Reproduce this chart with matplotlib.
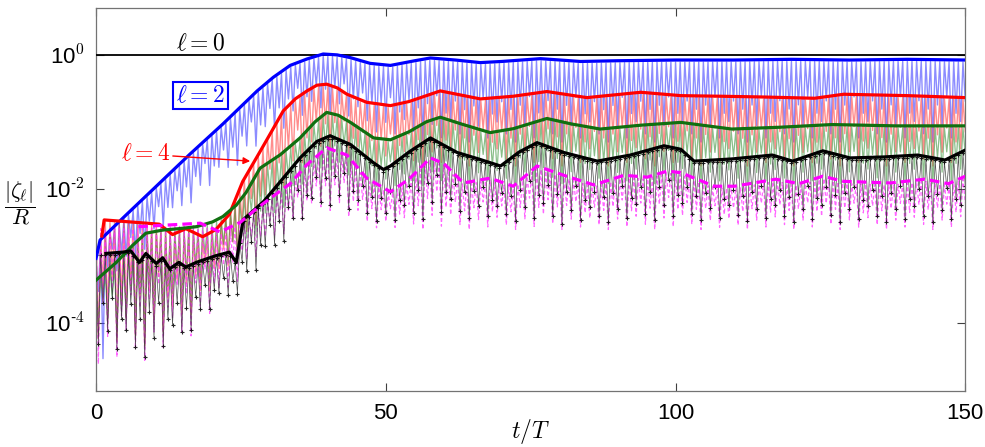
import numpy as np
import matplotlib
matplotlib.use("Agg")
import matplotlib.pyplot as plt
from matplotlib.ticker import FixedLocator, FixedFormatter, NullLocator

plt.rcParams['font.family'] = ['Liberation Sans', 'DejaVu Sans']
plt.rcParams['mathtext.fontset'] = 'cm'

# ---------------- data ----------------
# upper envelopes (thick lines)
t_l2 = [0, 0.7, 5.3, 10, 16.2, 21.9, 27.8, 30.6, 33.5, 36.4, 39.2, 41.6, 43.9, 47.3, 50.8,
        55, 57.7, 62, 66.3, 70, 76.7, 83.6, 90, 100, 110, 120, 130, 140, 150]
v_l2 = [9.3e-4, 1.74e-3, 4.2e-3, 1.02e-2, 3.3e-2, 9.3e-2, 0.288, 0.46, 0.69, 0.86, 1.02,
        0.99, 0.90, 0.74, 0.69, 0.81, 0.89, 0.83, 0.76, 0.79, 0.87, 0.79, 0.81, 0.83, 0.83,
        0.85, 0.83, 0.85, 0.83]

t_l4 = [1.0, 1.4, 10.9, 13.2, 15.5, 18.4, 20.7, 23, 25.3, 28.3, 30.3, 32.3, 34.4, 36.4,
        38.1, 39.8, 41.6, 43.3, 46.7, 50.8, 54, 59.4, 66.3, 72, 77.8, 84.7, 94, 100.9,
        107.8, 115, 124, 129, 140, 150]
v_l4 = [2.0e-3, 3.47e-3, 3.0e-3, 2.1e-3, 2.57e-3, 1.95e-3, 2.5e-3, 4.2e-3, 1.29e-2, 3.6e-2,
        7.2e-2, 0.145, 0.22, 0.288, 0.35, 0.363, 0.32, 0.257, 0.195, 0.174, 0.20, 0.288,
        0.219, 0.24, 0.282, 0.229, 0.275, 0.245, 0.24, 0.234, 0.224, 0.257, 0.245, 0.229]

t_l6 = [0, 3.5, 6.3, 8.6, 11.5, 14.3, 17.3, 20.1, 21.9, 24.2, 25.9, 28.3, 31.8, 35.2, 37.8,
        39.8, 41.8, 43.9, 47.9, 50.8, 54, 57, 59.4, 63, 68, 72, 77.8, 82, 87, 94, 100.9,
        109.7, 118, 127, 138, 150]
v_l6 = [4.4e-4, 8.1e-4, 1.45e-3, 2.2e-3, 2.45e-3, 2.57e-3, 2.75e-3, 3.24e-3, 3.9e-3, 5.75e-3,
        8.9e-3, 2.04e-2, 3.24e-2, 5.75e-2, 0.10, 0.138, 0.125, 9.8e-2, 5.75e-2, 5.4e-2,
        7.1e-2, 0.10, 0.117, 9.3e-2, 6.9e-2, 7.9e-2, 0.112, 9.3e-2, 7.8e-2, 8.9e-2, 9.8e-2,
        7.8e-2, 8.3e-2, 9.1e-2, 8.7e-2, 8.7e-2]

t_l8 = [1.7, 4.6, 6.0, 7.5, 8.6, 10.4, 11.5, 12.7, 14.3, 15.5, 17.3, 19, 20.7, 23, 24.2,
        25.4, 28.9, 31.8, 35.2, 38.1, 40.4, 43.9, 47.9, 49.6, 50.8, 54, 57.7, 62.3, 66,
        69.8, 73, 76.1, 80.7, 86.5, 92.2, 98, 100.9, 103.2, 109.7, 116.7, 120.2, 125.4,
        130.1, 136, 141.8, 146.5, 150]
v_l8 = [1.1e-3, 1.15e-3, 1.2e-3, 8.1e-4, 1.1e-3, 7.8e-4, 9.5e-4, 6.5e-4, 8.1e-4, 6.9e-4,
        8.1e-4, 9.1e-4, 1.02e-3, 1.15e-3, 8.1e-4, 3.5e-3, 6.5e-3, 1.29e-2, 2.9e-2, 5.1e-2,
        6.2e-2, 4.6e-2, 2.45e-2, 1.95e-2, 2.2e-2, 3.55e-2, 5.75e-2, 3.5e-2, 2.8e-2, 2.2e-2,
        3.55e-2, 4.9e-2, 3.5e-2, 2.6e-2, 3.2e-2, 4.4e-2, 3.9e-2, 2.6e-2, 2.8e-2, 3.2e-2,
        2.6e-2, 3.7e-2, 2.9e-2, 3.0e-2, 3.2e-2, 2.7e-2, 3.8e-2]

t_l10 = [7.3, 12, 18, 21.4, 24.9, 27.7, 30, 33.5, 36.4, 39.8, 43.3, 46.7, 50.8, 54, 57.7,
         60, 63.4, 68, 72, 76.1, 80.7, 85.9, 91.1, 95.1, 98.6, 100.9, 106.7, 110.2, 117.3,
         121.3, 125.4, 129, 137.1, 143, 147.1, 150]
v_l10 = [2.75e-3, 2.9e-3, 3.1e-3, 2.3e-3, 3.2e-3, 5.1e-3, 7.2e-3, 1.2e-2, 2.3e-2, 4.1e-2,
         3.2e-2, 1.45e-2, 9.1e-3, 1.4e-2, 2.9e-2, 2.4e-2, 1.23e-2, 1.45e-2, 1.1e-2, 2.2e-2,
         1.6e-2, 1.15e-2, 1.6e-2, 1.5e-2, 1.85e-2, 1.75e-2, 1.1e-2, 1.1e-2, 1.4e-2, 1.2e-2,
         1.55e-2, 1.3e-2, 1.23e-2, 1.4e-2, 1.2e-2, 1.55e-2]

# lower reach of the oscillating thin lines
t_low = [0, 0.8, 1.2, 1.6, 5, 10, 15, 20, 25, 30, 35, 40, 45, 50, 60, 80, 100, 120, 150]
low_l2 = [3e-4, 3e-4, 1e-6, 5e-4, 6e-4, 1.8e-3, 5e-3, 1.1e-2, 2.5e-2, 6e-2, 0.11, 0.14,
          0.10, 6e-2, 5e-2, 5e-2, 5e-2, 5e-2, 5e-2]
low_l4 = [6e-5, 6e-5, 6e-5, 5e-5, 4e-5, 5e-5, 1e-4, 3e-4, 1e-3, 6e-3, 2e-2, 4e-2, 2.5e-2,
          2e-2, 2.2e-2, 2.2e-2, 2.2e-2, 2.2e-2, 2.2e-2]
low_l6 = [1e-4, 1e-4, 1e-4, 8e-5, 6e-5, 1e-4, 1.6e-4, 4e-4, 1e-3, 3e-3, 1e-2, 2e-2, 1.3e-2,
          1e-2, 1.2e-2, 1.2e-2, 1.2e-2, 1.2e-2, 1.2e-2]
low_l8 = [5e-5, 5e-5, 5e-5, 4e-5, 3.2e-5, 3.2e-5, 6e-5, 1.6e-4, 3e-4, 1e-3, 3e-3, 6e-3,
          4e-3, 3e-3, 4e-3, 3e-3, 3.5e-3, 3.2e-3, 3.2e-3]
low_l10 = [2.5e-5, 2.5e-5, 2.5e-5, 2.5e-5, 2.5e-5, 3e-5, 5e-5, 1.3e-4, 5e-4, 1.6e-3, 3e-3,
           5e-3, 3e-3, 2.5e-3, 2.5e-3, 2.5e-3, 2.5e-3, 2.5e-3, 2.5e-3]

depth_pattern = [1.0, 0.55, 0.8, 0.45, 0.95, 0.65, 0.75, 0.5, 0.9, 0.6]

labels = [r'$\ell=0$', r'$\ell=2$', r'$\ell=4$']
y_ticks = [1e-4, 1e-2, 1e0]
y_ticklabels = ['10$^{\\mathdefault{\u2010}4}$', '10$^{\\mathdefault{\u2010}2}$', '10$^{0}$']

# ---------------- figure ----------------
fig = plt.figure(figsize=(9.85, 4.47), dpi=100)
ax = fig.add_axes([0.0975, 0.126, 0.8825, 0.857])
ax.set_yscale('log')
ax.set_xlim(0, 150)
ax.set_ylim(1e-5, 5)

tt = np.arange(0, 150.001, 0.4)


def osc(t_env, v_env, low):
    le = np.interp(tt, t_env, np.log10(v_env))
    ll = np.interp(tt, t_low, np.log10(low))
    d = np.array([depth_pattern[(i // 2) % len(depth_pattern)] for i in range(len(tt))])
    val = np.where(np.arange(len(tt)) % 2 == 0, le - 0.03, le - d * (le - ll))
    return 10 ** val


# thin oscillating lines
ax.plot(tt, osc(t_l2, v_l2, low_l2), color='#4040ff', lw=1.0, alpha=0.6, zorder=2)
ax.plot(tt, osc(t_l4, v_l4, low_l4), color='#ff3030', lw=1.0, alpha=0.55, zorder=2.1)
ax.plot(tt, osc(t_l6, v_l6, low_l6), color='#2a8a2a', lw=0.9, alpha=0.55, zorder=2.2)
ax.plot(tt, osc(t_l10, v_l10, low_l10), color='#ff33ff', lw=0.9, alpha=0.75, ls='--',
        dashes=(3, 2), zorder=2.3)
ax.plot(tt, osc(t_l8, v_l8, low_l8), color='#303030', lw=0.5, alpha=0.85, marker='+',
        ms=3.2, mew=0.8, mec='black', zorder=2.5)

# l = 0
ax.axhline(1.0, color='black', lw=1.3, zorder=4)

# thick envelopes
ax.plot(t_l2, v_l2, color='#0000ff', lw=2.3, zorder=5)
ax.plot(t_l4, v_l4, color='#ff0000', lw=2.3, zorder=5)
ax.plot(t_l6, v_l6, color='#107010', lw=2.3, zorder=5)
ax.plot(t_l8, v_l8, color='black', lw=2.3, zorder=5)
ax.plot(t_l10, v_l10, color='#ff00ff', lw=2.3, ls='--', dashes=(3, 1.6), zorder=5)

# annotations
ax.text(18, 1.41, labels[0], fontsize=17, ha='center', va='center', color='black')
ax.text(18, 0.245, labels[1], fontsize=17, ha='center', va='center', color='#0000ff',
        bbox=dict(boxstyle='square,pad=0.12', fc='white', ec='#0000ff', lw=1.5), zorder=6)
ax.annotate(labels[2], xy=(26.6, 0.026), xytext=(8.5, 0.033), fontsize=17, color='#ff0000',
            ha='center', va='center',
            arrowprops=dict(arrowstyle='-|>', color='#ff0000', lw=1.0, mutation_scale=10,
                            shrinkA=0, shrinkB=0), zorder=6)

# axes styling
ax.yaxis.set_major_locator(FixedLocator(y_ticks))
ax.yaxis.set_major_formatter(FixedFormatter(y_ticklabels))
ax.yaxis.set_minor_locator(NullLocator())
ax.set_xticks([0, 50, 100, 150])
ax.tick_params(direction='in', length=6, width=0.8, top=True, right=True, labelsize=16,
               color='0.25')
ax.tick_params(axis='x', pad=9)
ax.tick_params(axis='y', pad=8)
for s in ax.spines.values():
    s.set_color('0.45')
    s.set_linewidth(0.9)

ax.set_xlabel(r'$t/T$', fontsize=17)
ax.xaxis.set_label_coords(0.5, -0.07)
ax.set_ylabel(r'$\dfrac{|\zeta_\ell|}{R}$', fontsize=16, rotation=0, va='center')
ax.yaxis.set_label_coords(-0.087, 0.49)

fig.savefig('out.png', dpi=100)
